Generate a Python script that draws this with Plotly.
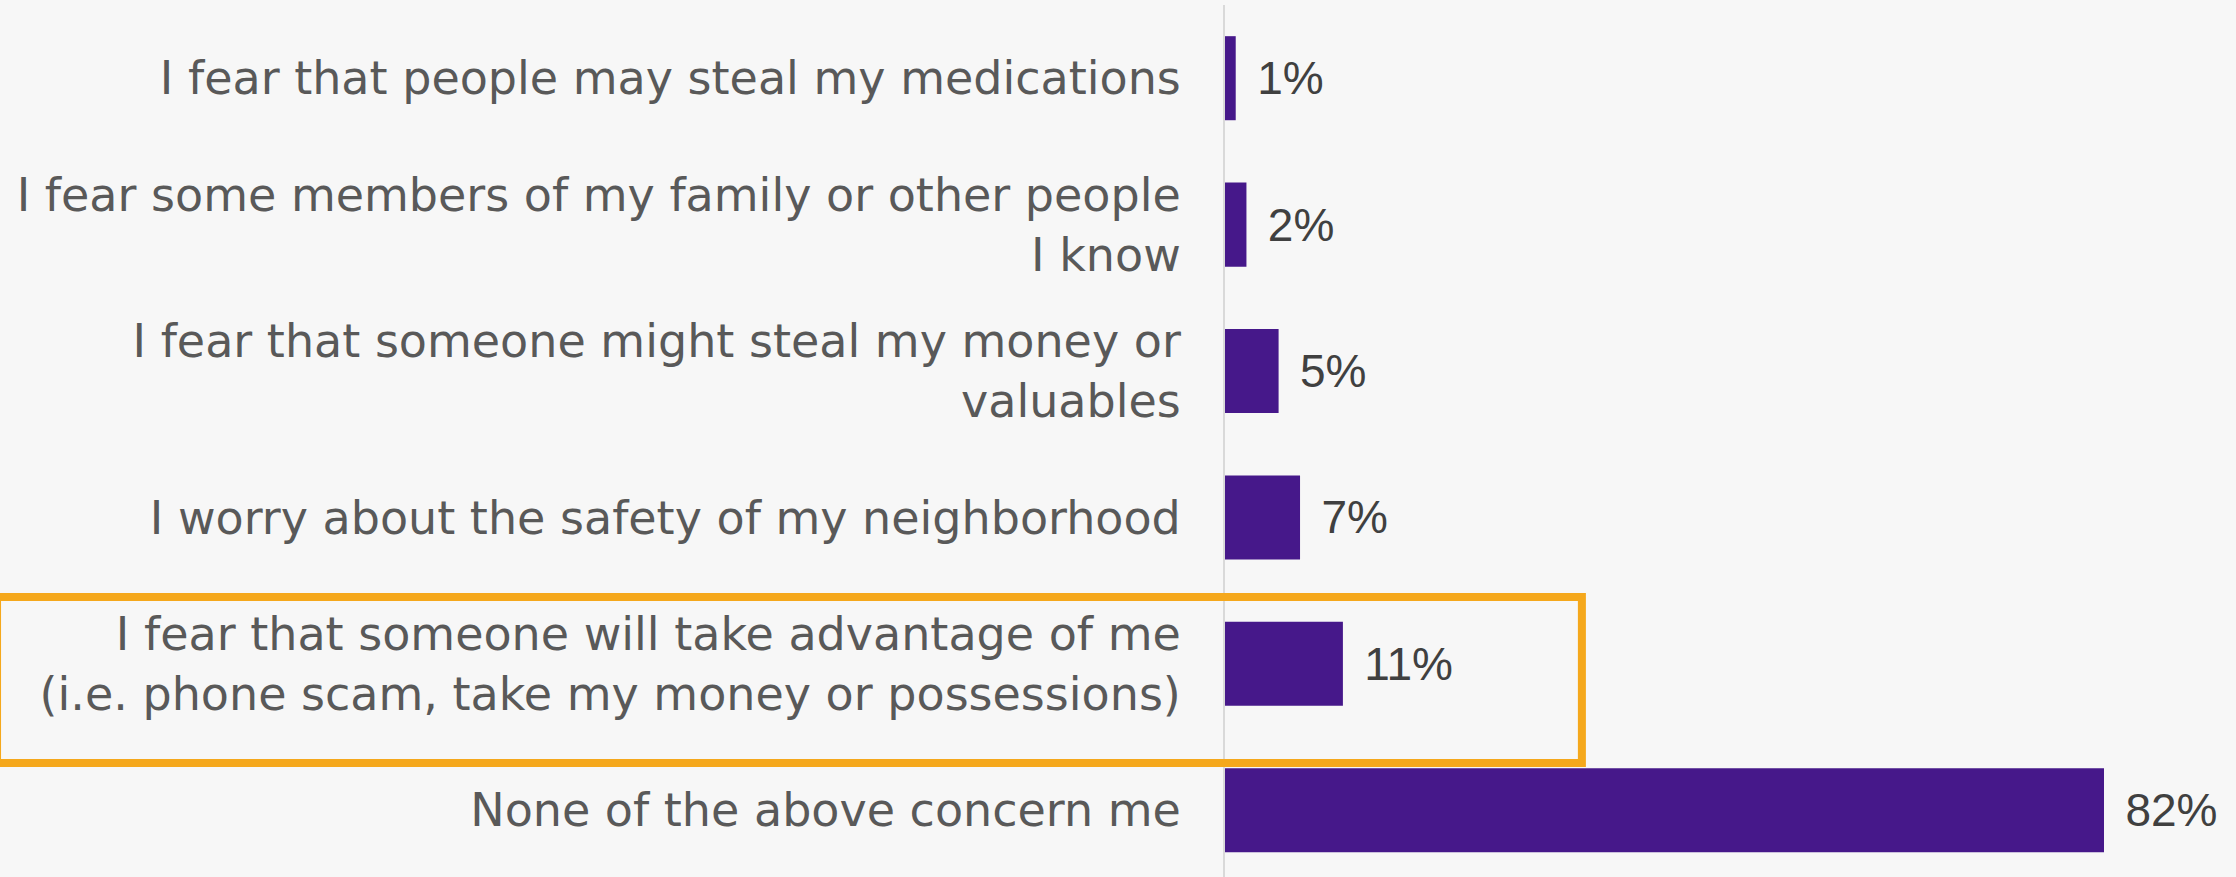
import plotly.graph_objects as go

categories = [
    "I fear that people may steal my medications",
    "I fear some members of my family or other people<br>I know",
    "I fear that someone might steal my money or<br>valuables",
    "I worry about the safety of my neighborhood",
    "I fear that someone will take advantage of me<br>(i.e. phone scam, take my money or possessions)",
    "None of the above concern me",
]
values = [1, 2, 5, 7, 11, 82]
value_labels = ["1%", "2%", "5%", "7%", "11%", "82%"]

W, H = 2236, 877
L, T = 1225, 5
plot_w = W - L
px_per_unit = 879 / 82

fig = go.Figure(go.Bar(
    x=values, y=categories, orientation="h",
    marker=dict(color="#46188A", line=dict(width=0)),
    text=["\u2009\u2009" + t for t in value_labels],
    textposition="outside",
    textfont=dict(family="Liberation Sans", size=46, color="#404040"),
    cliponaxis=False,
    width=0.574,
))

fig.update_layout(
    width=W, height=H,
    margin=dict(l=L, r=0, t=T, b=0),
    paper_bgcolor="#F7F7F7", plot_bgcolor="#F7F7F7",
    showlegend=False,
    xaxis=dict(range=[0, plot_w / px_per_unit], visible=False, showgrid=False, zeroline=False),
    yaxis=dict(
        type="category",
        range=[5.456, -0.5],
        showgrid=False, zeroline=False,
        showline=True, linecolor="#D9D9D9", linewidth=2,
        ticks="", ticklabelstandoff=33,
        tickfont=dict(family="DejaVu Sans", size=46, color="#595959"),
    ),
    shapes=[dict(
        type="rect", xref="paper", yref="paper",
        x0=-1.2146, x1=0.353, y0=0.1307, y1=0.3211,
        line=dict(color="#F5A81C", width=8), fillcolor="rgba(0,0,0,0)",
    )],
)

fig.write_html(
    "out.html",
    config={"displayModeBar": False},
    post_script="document.body.style.margin='0';document.body.style.background='#F7F7F7';",
)
